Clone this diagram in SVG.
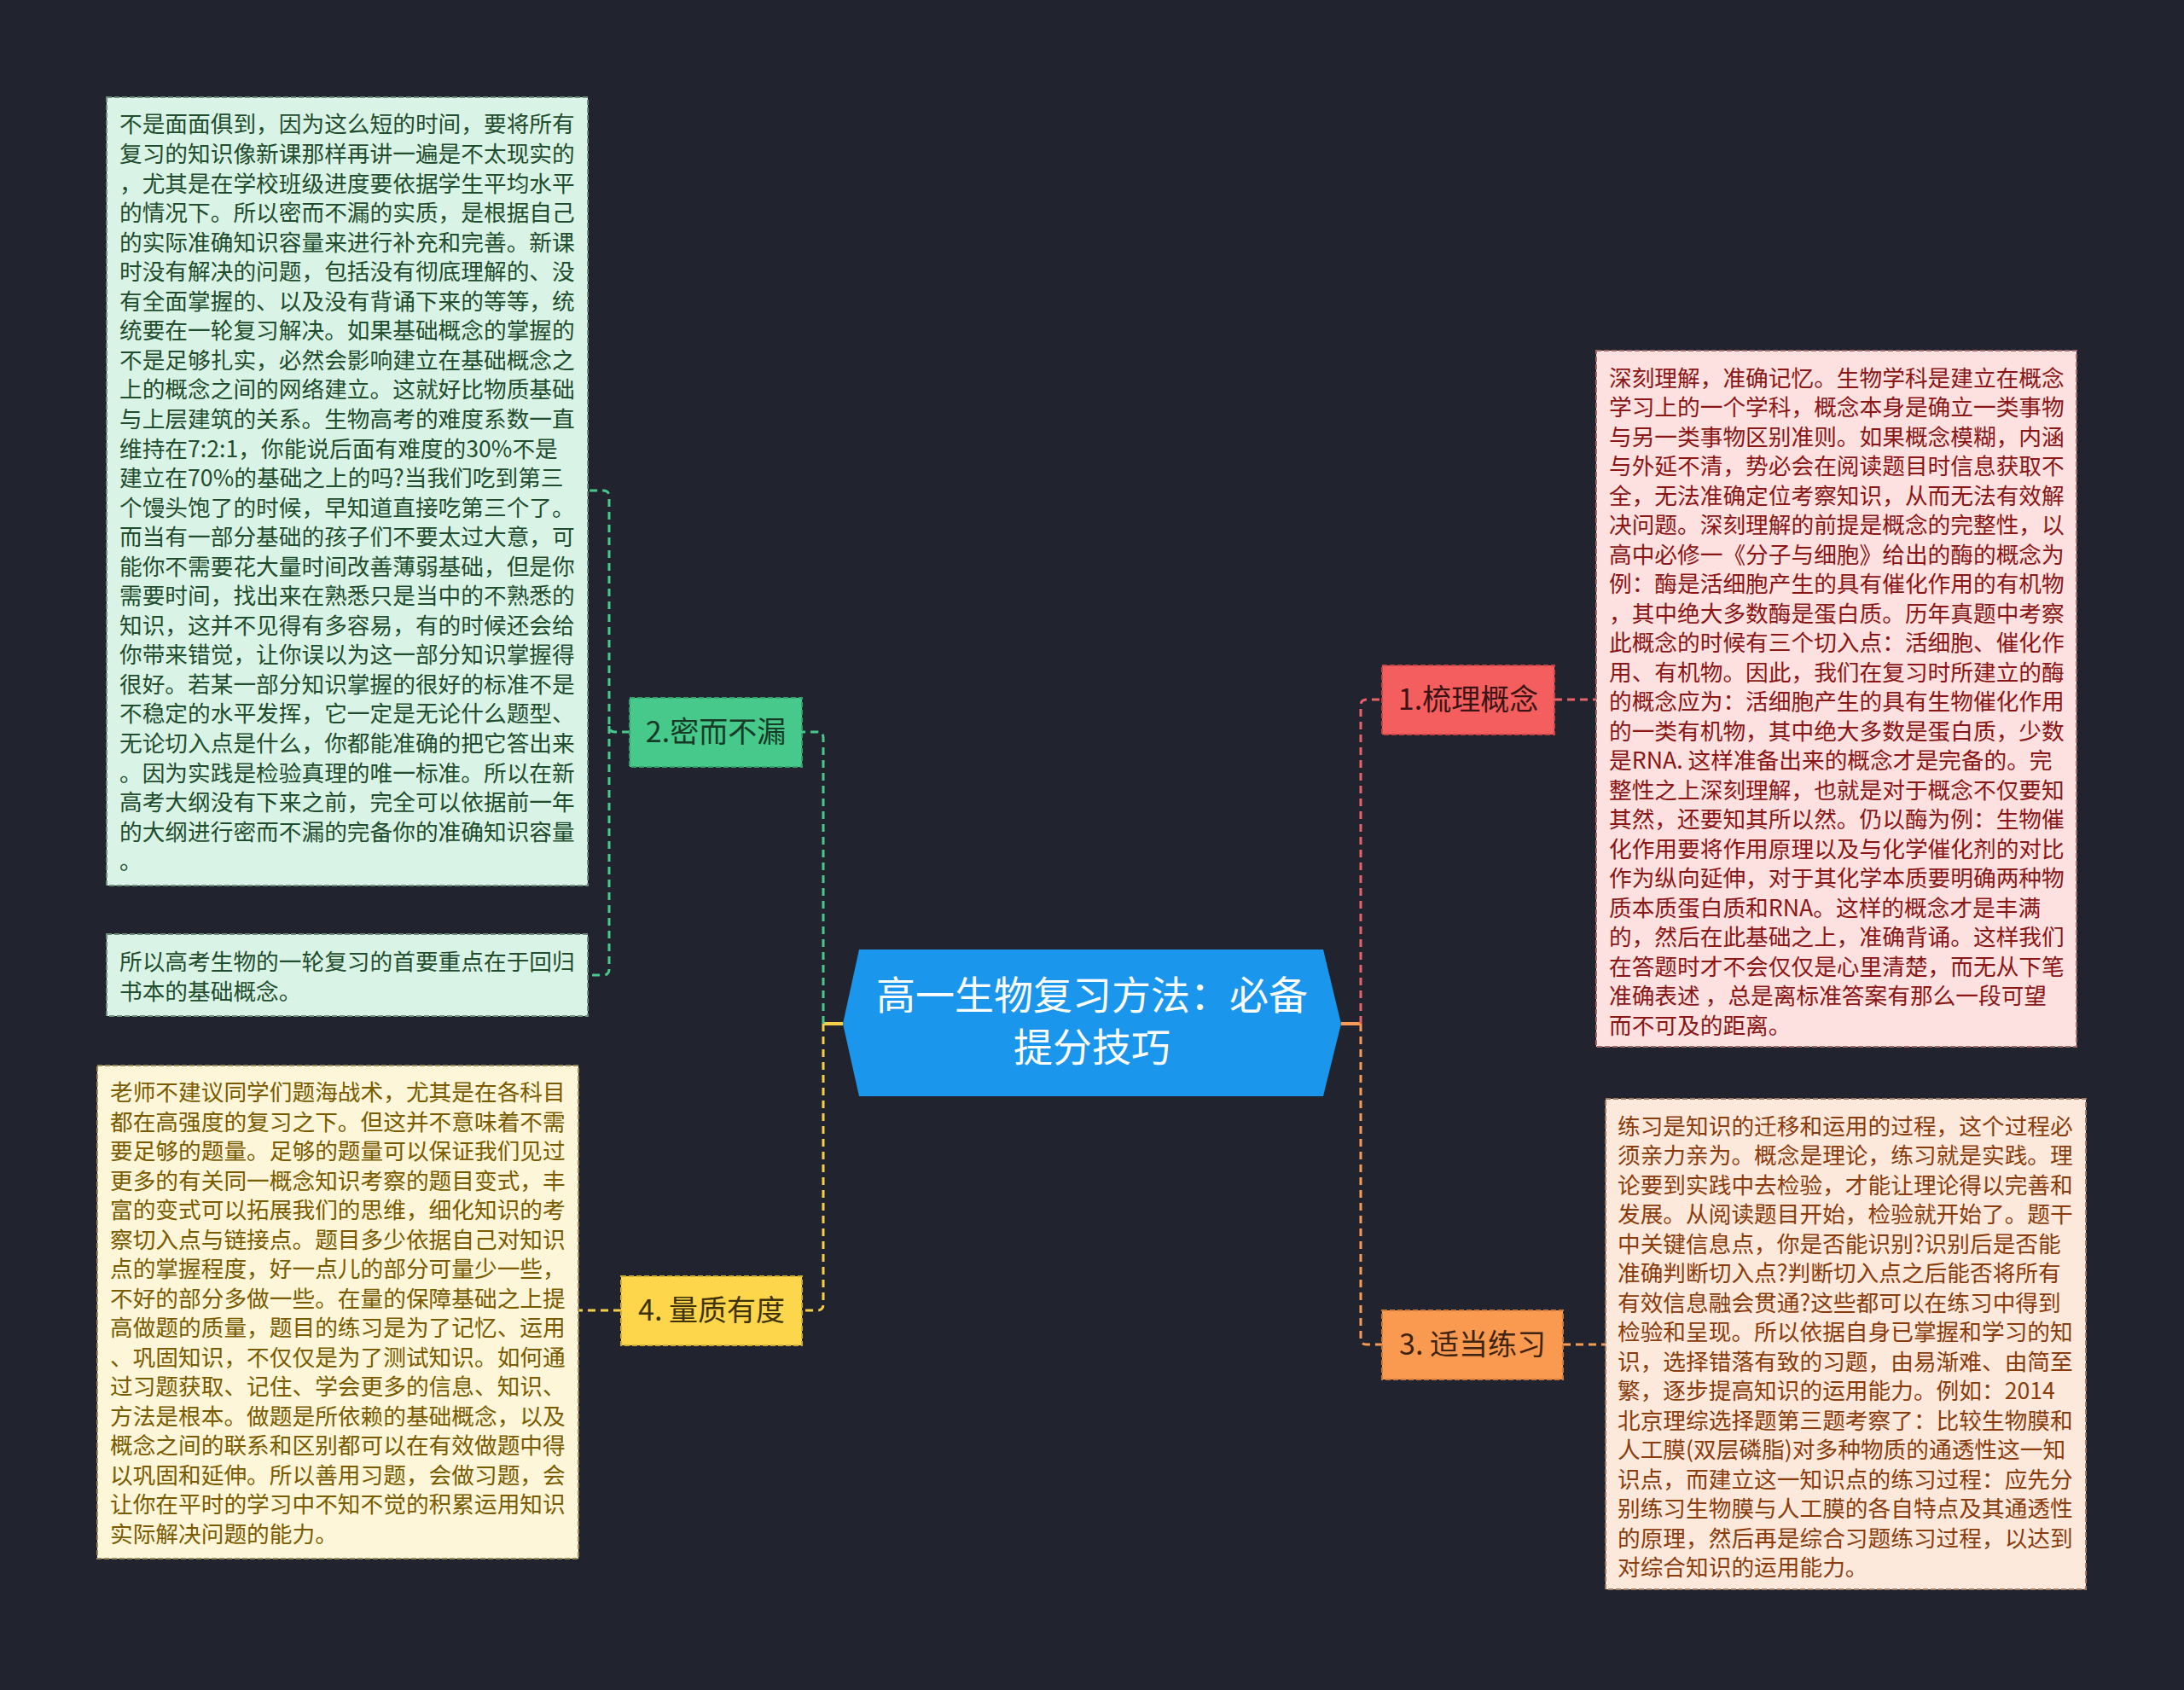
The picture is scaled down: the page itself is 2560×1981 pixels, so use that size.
<svg xmlns="http://www.w3.org/2000/svg" width="2560" height="1981" viewBox="0 0 2560 1981">
<style>
.bg{fill:#21242f}
text{font-family:"Noto Sans CJK SC","Noto Sans",sans-serif}
.leaf{font-size:26.7px}
.lg{fill:#1f4d2e}
.ly{fill:#7a5b00}
.lr{fill:#8a1616}
.lo{fill:#8a3c0c}
.nt{font-size:34px;text-anchor:middle}
.ct{font-size:46px;fill:#ffffff;text-anchor:middle}
.con{fill:none;stroke-width:3;stroke-dasharray:9 6}
.solid{fill:none;stroke-width:4}
.box{stroke-width:2;stroke-dasharray:6 3}
</style>
<rect class="bg" x="0" y="0" width="2560" height="1981"/>

<g id="connectors">
  <path class="solid" stroke="#f5cf45" d="M988 1200 H965"/>
  <path class="solid" stroke="#f79a55" d="M1572 1200 H1595"/>
  <path class="con" stroke="#48c98b" d="M965 1200 V865 Q965 858 958 858 H940"/>
  <path class="con" stroke="#f5cf45" d="M965 1200 V1529 Q965 1536 958 1536 H940"/>
  <path class="con" stroke="#e8626a" d="M1595 1200 V827 Q1595 820 1602 820 H1620"/>
  <path class="con" stroke="#f79a55" d="M1595 1200 V1569 Q1595 1576 1602 1576 H1620"/>
  <path class="con" stroke="#e8626a" d="M1822 820 H1871"/>
  <path class="con" stroke="#f79a55" d="M1832 1576 H1882"/>
  <path class="con" stroke="#48c98b" d="M738 858 H721 Q714 858 714 851 V582 Q714 575 707 575 H689"/>
  <path class="con" stroke="#48c98b" d="M714 851 V1136 Q714 1143 707 1143 H689"/>
  <path class="con" stroke="#f5cf45" d="M728 1536 H678"/>
</g>

<g id="center">
  <polygon points="1007,1113 1551,1113 1572,1200 1551,1285 1007,1285 988,1200" fill="#1a96ec"/>
  <text class="ct" x="1280" y="1183">高一生物复习方法：必备</text>
  <text class="ct" x="1280" y="1244">提分技巧</text>
</g>

<g id="node1">
  <rect class="box" x="1620" y="780" width="202" height="81" fill="#f45e5e" stroke="#c94545"/>
  <text class="nt" x="1721" y="832" fill="#3a1414">1.梳理概念</text>
</g>
<g id="node3">
  <rect class="box" x="1620" y="1536" width="212" height="81" fill="#fa9a50" stroke="#cf7a3a"/>
  <text class="nt" x="1726" y="1588" fill="#3f2412">3. 适当练习</text>
</g>
<g id="node2">
  <rect class="box" x="738" y="818" width="202" height="81" fill="#46c98a" stroke="#34a06c"/>
  <text class="nt" x="839" y="870" fill="#163a26">2.密而不漏</text>
</g>
<g id="node4">
  <rect class="box" x="728" y="1496" width="212" height="81" fill="#fdd64c" stroke="#cfae36"/>
  <text class="nt" x="834" y="1548" fill="#3d3208">4. 量质有度</text>
</g>

<g id="leaf2a">
  <rect class="box" x="125" y="114" width="564" height="924" fill="#d9f4e6" stroke="#6f8f7d"/>
  <text class="leaf lg">
    <tspan x="140" y="155.4">不是面面俱到，因为这么短的时间，要将所有</tspan>
    <tspan x="140" y="190">复习的知识像新课那样再讲一遍是不太现实的</tspan>
    <tspan x="140" y="224.5">，尤其是在学校班级进度要依据学生平均水平</tspan>
    <tspan x="140" y="259">的情况下。所以密而不漏的实质，是根据自己</tspan>
    <tspan x="140" y="293.6">的实际准确知识容量来进行补充和完善。新课</tspan>
    <tspan x="140" y="328.2">时没有解决的问题，包括没有彻底理解的、没</tspan>
    <tspan x="140" y="362.7">有全面掌握的、以及没有背诵下来的等等，统</tspan>
    <tspan x="140" y="397.3">统要在一轮复习解决。如果基础概念的掌握的</tspan>
    <tspan x="140" y="431.8">不是足够扎实，必然会影响建立在基础概念之</tspan>
    <tspan x="140" y="466.4">上的概念之间的网络建立。这就好比物质基础</tspan>
    <tspan x="140" y="500.9">与上层建筑的关系。生物高考的难度系数一直</tspan>
    <tspan x="140" y="535.5">维持在7:2:1，你能说后面有难度的30%不是</tspan>
    <tspan x="140" y="570">建立在70%的基础之上的吗?当我们吃到第三</tspan>
    <tspan x="140" y="604.6">个馒头饱了的时候，早知道直接吃第三个了。</tspan>
    <tspan x="140" y="639.1">而当有一部分基础的孩子们不要太过大意，可</tspan>
    <tspan x="140" y="673.7">能你不需要花大量时间改善薄弱基础，但是你</tspan>
    <tspan x="140" y="708.2">需要时间，找出来在熟悉只是当中的不熟悉的</tspan>
    <tspan x="140" y="742.8">知识，这并不见得有多容易，有的时候还会给</tspan>
    <tspan x="140" y="777.3">你带来错觉，让你误以为这一部分知识掌握得</tspan>
    <tspan x="140" y="811.9">很好。若某一部分知识掌握的很好的标准不是</tspan>
    <tspan x="140" y="846.4">不稳定的水平发挥，它一定是无论什么题型、</tspan>
    <tspan x="140" y="881">无论切入点是什么，你都能准确的把它答出来</tspan>
    <tspan x="140" y="915.5">。因为实践是检验真理的唯一标准。所以在新</tspan>
    <tspan x="140" y="950.1">高考大纲没有下来之前，完全可以依据前一年</tspan>
    <tspan x="140" y="984.6">的大纲进行密而不漏的完备你的准确知识容量</tspan>
    <tspan x="140" y="1019.2">。</tspan>
  </text>
</g>

<g id="leaf2b">
  <rect class="box" x="125" y="1095" width="564" height="96" fill="#d9f4e6" stroke="#6f8f7d"/>
  <text class="leaf lg">
    <tspan x="140" y="1137">所以高考生物的一轮复习的首要重点在于回归</tspan>
    <tspan x="140" y="1171.5">书本的基础概念。</tspan>
  </text>
</g>

<g id="leaf4">
  <rect class="box" x="114" y="1249" width="564" height="578" fill="#fdf6d8" stroke="#9a8a55"/>
  <text class="leaf ly">
    <tspan x="129" y="1290">老师不建议同学们题海战术，尤其是在各科目</tspan>
    <tspan x="129" y="1324.5">都在高强度的复习之下。但这并不意味着不需</tspan>
    <tspan x="129" y="1359">要足够的题量。足够的题量可以保证我们见过</tspan>
    <tspan x="129" y="1393.5">更多的有关同一概念知识考察的题目变式，丰</tspan>
    <tspan x="129" y="1428">富的变式可以拓展我们的思维，细化知识的考</tspan>
    <tspan x="129" y="1462.5">察切入点与链接点。题目多少依据自己对知识</tspan>
    <tspan x="129" y="1497">点的掌握程度，好一点儿的部分可量少一些，</tspan>
    <tspan x="129" y="1531.5">不好的部分多做一些。在量的保障基础之上提</tspan>
    <tspan x="129" y="1566">高做题的质量，题目的练习是为了记忆、运用</tspan>
    <tspan x="129" y="1600.5">、巩固知识，不仅仅是为了测试知识。如何通</tspan>
    <tspan x="129" y="1635">过习题获取、记住、学会更多的信息、知识、</tspan>
    <tspan x="129" y="1669.5">方法是根本。做题是所依赖的基础概念，以及</tspan>
    <tspan x="129" y="1704">概念之间的联系和区别都可以在有效做题中得</tspan>
    <tspan x="129" y="1738.5">以巩固和延伸。所以善用习题，会做习题，会</tspan>
    <tspan x="129" y="1773">让你在平时的学习中不知不觉的积累运用知识</tspan>
    <tspan x="129" y="1807.5">实际解决问题的能力。</tspan>
  </text>
</g>

<g id="leaf1">
  <rect class="box" x="1871" y="411" width="563" height="816" fill="#fde0e0" stroke="#a06a6a"/>
  <text class="leaf lr">
    <tspan x="1886" y="452.5">深刻理解，准确记忆。生物学科是建立在概念</tspan>
    <tspan x="1886" y="487">学习上的一个学科，概念本身是确立一类事物</tspan>
    <tspan x="1886" y="521.5">与另一类事物区别准则。如果概念模糊，内涵</tspan>
    <tspan x="1886" y="556">与外延不清，势必会在阅读题目时信息获取不</tspan>
    <tspan x="1886" y="590.5">全，无法准确定位考察知识，从而无法有效解</tspan>
    <tspan x="1886" y="625">决问题。深刻理解的前提是概念的完整性，以</tspan>
    <tspan x="1886" y="659.5">高中必修一《分子与细胞》给出的酶的概念为</tspan>
    <tspan x="1886" y="694">例：酶是活细胞产生的具有催化作用的有机物</tspan>
    <tspan x="1886" y="728.5">，其中绝大多数酶是蛋白质。历年真题中考察</tspan>
    <tspan x="1886" y="763">此概念的时候有三个切入点：活细胞、催化作</tspan>
    <tspan x="1886" y="797.5">用、有机物。因此，我们在复习时所建立的酶</tspan>
    <tspan x="1886" y="832">的概念应为：活细胞产生的具有生物催化作用</tspan>
    <tspan x="1886" y="866.5">的一类有机物，其中绝大多数是蛋白质，少数</tspan>
    <tspan x="1886" y="901">是RNA. 这样准备出来的概念才是完备的。完</tspan>
    <tspan x="1886" y="935.5">整性之上深刻理解，也就是对于概念不仅要知</tspan>
    <tspan x="1886" y="970">其然，还要知其所以然。仍以酶为例：生物催</tspan>
    <tspan x="1886" y="1004.5">化作用要将作用原理以及与化学催化剂的对比</tspan>
    <tspan x="1886" y="1039">作为纵向延伸，对于其化学本质要明确两种物</tspan>
    <tspan x="1886" y="1073.5">质本质蛋白质和RNA。这样的概念才是丰满</tspan>
    <tspan x="1886" y="1108">的，然后在此基础之上，准确背诵。这样我们</tspan>
    <tspan x="1886" y="1142.5">在答题时才不会仅仅是心里清楚，而无从下笔</tspan>
    <tspan x="1886" y="1177">准确表述 ，总是离标准答案有那么一段可望</tspan>
    <tspan x="1886" y="1211.5">而不可及的距离。</tspan>
  </text>
</g>

<g id="leaf3">
  <rect class="box" x="1882" y="1288" width="563" height="575" fill="#fde9dc" stroke="#a07a60"/>
  <text class="leaf lo">
    <tspan x="1896" y="1329.5">练习是知识的迁移和运用的过程，这个过程必</tspan>
    <tspan x="1896" y="1364">须亲力亲为。概念是理论，练习就是实践。理</tspan>
    <tspan x="1896" y="1398.5">论要到实践中去检验，才能让理论得以完善和</tspan>
    <tspan x="1896" y="1433">发展。从阅读题目开始，检验就开始了。题干</tspan>
    <tspan x="1896" y="1467.5">中关键信息点，你是否能识别?识别后是否能</tspan>
    <tspan x="1896" y="1502">准确判断切入点?判断切入点之后能否将所有</tspan>
    <tspan x="1896" y="1536.5">有效信息融会贯通?这些都可以在练习中得到</tspan>
    <tspan x="1896" y="1571">检验和呈现。所以依据自身已掌握和学习的知</tspan>
    <tspan x="1896" y="1605.5">识，选择错落有致的习题，由易渐难、由简至</tspan>
    <tspan x="1896" y="1640">繁，逐步提高知识的运用能力。例如：2014</tspan>
    <tspan x="1896" y="1674.5">北京理综选择题第三题考察了：比较生物膜和</tspan>
    <tspan x="1896" y="1709">人工膜(双层磷脂)对多种物质的通透性这一知</tspan>
    <tspan x="1896" y="1743.5">识点，而建立这一知识点的练习过程：应先分</tspan>
    <tspan x="1896" y="1778">别练习生物膜与人工膜的各自特点及其通透性</tspan>
    <tspan x="1896" y="1812.5">的原理，然后再是综合习题练习过程，以达到</tspan>
    <tspan x="1896" y="1847">对综合知识的运用能力。</tspan>
  </text>
</g>
</svg>
